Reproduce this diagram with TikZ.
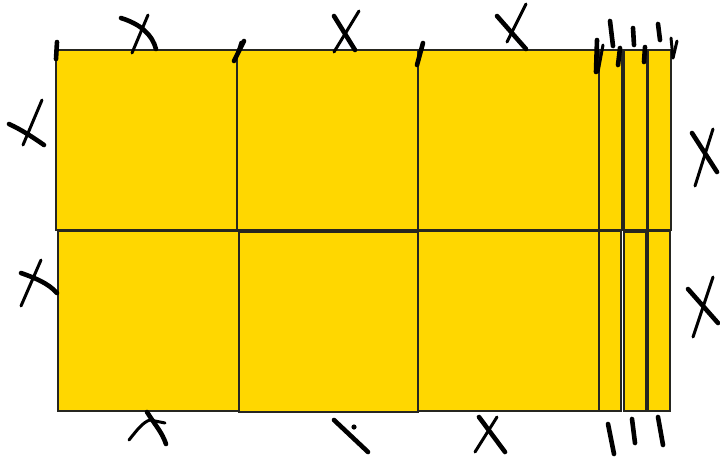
\documentclass[tikz,border=0pt]{standalone}
\usepackage{tikz}
\definecolor{sq}{HTML}{FFD700}
\definecolor{edge}{HTML}{262620}
\tikzset{
  tile/.style={fill=sq, draw=edge, line width=1.1pt},
  pen/.style={draw=black, line width=4.6pt, line cap=round, line join=round},
  thinpen/.style={draw=black, line width=3pt, line cap=round, line join=round}
}
\begin{document}
\begin{tikzpicture}[x=1pt,y=-1pt]
\useasboundingbox (0,0) rectangle (720,459);
% top row
\draw[tile] (56,50) rectangle (237,230);
\draw[tile] (237,50) rectangle (418,230);
\draw[tile] (418,50) rectangle (599,230);
\draw[tile] (599,50) rectangle (622,230);
\draw[tile] (624,50) rectangle (647,230);
\draw[tile] (648,50) rectangle (671,230);
% bottom row
\draw[tile] (58,231) rectangle (239,411);
\draw[tile] (239,232) rectangle (418,412);
\draw[tile] (418,231) rectangle (599,411);
\draw[tile] (599,231) rectangle (621,411);
\draw[tile] (624,232) rectangle (646,411);
\draw[tile] (648,231) rectangle (670,411);
% top marks
\draw[pen] (57,42) -- (56,59);
\draw[pen] (121,18) .. controls (140,24) and (152,34) .. (156,49);
\draw[thinpen] (148,15) -- (132,53);
\draw[pen] (244,41) -- (234,61);
\draw[thinpen] (241,42) -- (236,58);
\draw[pen] (334,16) -- (355,50);
\draw[thinpen] (359,11) -- (334,52);
\draw[pen] (423,43) -- (417,65);
\draw[pen] (497,16) -- (526,49);
\draw[thinpen] (526,4) -- (507,42);
% strip ticks top
\draw[pen] (597,40) -- (596,72);
\draw[thinpen] (603,45) -- (598,72);
\draw[pen] (610,21) -- (613,46);
\draw[pen] (620,48) -- (618,65);
\draw[pen] (633,28) -- (634,45);
\draw[pen] (645,47) -- (644,62);
\draw[pen] (658,24) -- (660,40);
\draw[thinpen] (671,38) -- (673,58);
\draw[thinpen] (677,41) -- (673,58);
% left marks
\draw[pen] (9,124) .. controls (22,130) and (34,138) .. (44,145);
\draw[thinpen] (42,100) -- (23,145);
\draw[pen] (21,273) .. controls (35,278) and (48,283) .. (57,293);
\draw[thinpen] (41,260) -- (21,306);
% right marks
\draw[pen] (692,133) -- (717,172);
\draw[thinpen] (713,129) -- (695,186);
\draw[pen] (688,289) -- (718,323);
\draw[thinpen] (713,277) -- (693,337);
% bottom marks
\draw[thinpen] (129,440) .. controls (137,430) and (143,422) .. (150,420) -- (165,423);
\draw[pen] (147,412) .. controls (155,425) and (162,432) .. (166,444);
\draw[pen] (334,420) -- (368,452);
\fill (354,427) circle (2.6);
\draw[pen] (479,417) -- (505,452);
\draw[thinpen] (497,417) -- (475,452);
\draw[pen] (608,424) -- (614,454);
\draw[pen] (632,419) -- (635,443);
\draw[pen] (658,417) -- (663,445);
\end{tikzpicture}
\end{document}
